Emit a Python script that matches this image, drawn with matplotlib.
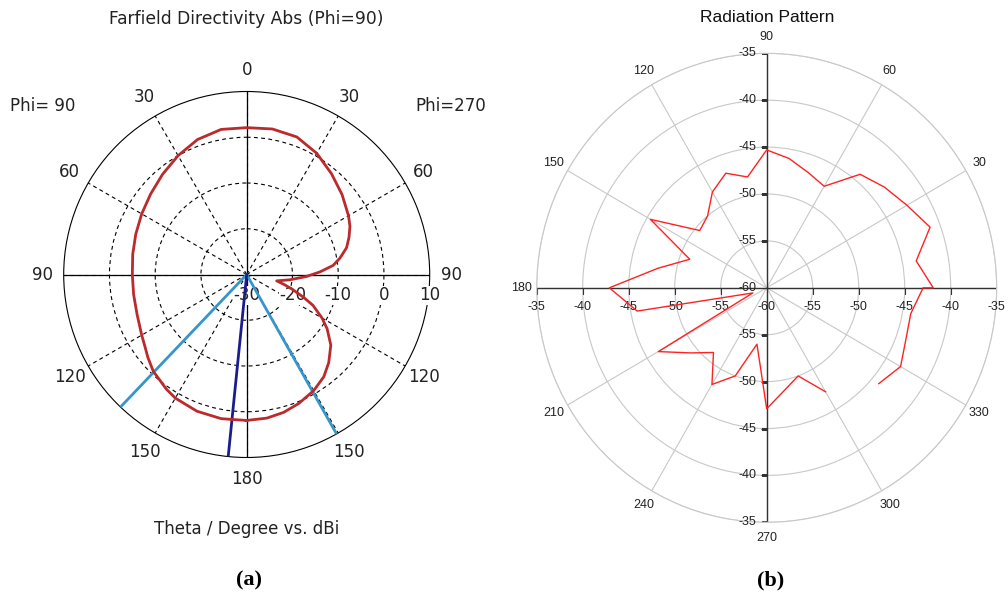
import numpy as np
import matplotlib.pyplot as plt

plt.rcParams['font.family'] = ['DejaVu Sans']

# ---- (a) farfield directivity cut: theta (deg) vs dBi, both half planes
theta_phi90 = [0, 10, 20, 30, 40, 50, 60, 70, 80, 90, 100, 110, 120, 125, 130, 136,
               145, 150, 160, 170, 180]
dbi_phi90 = [2.1, 2.2, 1.4, 0.0, -1.4, -2.6, -3.5, -4.2, -4.7, -5.0, -4.9, -4.5, -3.5,
             -2.8, -1.8, -0.6, 0.6, 1.2, 1.8, 2.0, 1.9]
theta_phi270 = [0, 10, 20, 30, 40, 50, 60, 65, 70, 75, 80, 84, 88, 92, 97, 102, 105, 108,
                112, 115, 120, 124, 130, 137, 143, 150, 158, 165, 172, 180]
dbi_phi270 = [2.1, 2.3, 2.0, 0.6, -1.2, -2.8, -4.3, -5.1, -6.2, -7.4, -9.3, -11.0, -14.0,
              -17.0, -20.5, -23.3, -21.5, -19.5, -16.5, -14.0, -11.0, -8.8, -6.0, -3.7,
              -2.0, -0.7, 0.4, 1.2, 1.7, 1.9]
main_lobe_theta = 174.2          # phi=90 side
beam_edges = [(-136.4), 150.6]   # negative = phi=90 side
angle_ticks_a = [0, 30, 60, 90, 120, 150, 180, 210, 240, 270, 300, 330]
angle_labels_a = ['0', '30', '60', '90', '120', '150', '180', '150', '120', '90', '60', '30']
rings_a = [-30, -20, -10, 0, 10]

# ---- (b) measured radiation pattern: angle (deg) vs level
rp_angle = [320, 330, 340, 350, 360, 0, 10, 20, 30, 40, 50, 60, 70, 80, 90, 100, 110,
            120, 130, 140, 150, 160, 170, 180, 190, 200, 210, 220, 230, 240, 250, 260,
            270, 280, 290, 300]
rp_level = [-44.1, -43.2, -43.9, -44.1, -43.0, -41.9, -43.5, -41.1, -42.4, -43.3, -44.2,
            -47.5, -46.9, -46.0, -45.3, -48.0, -47.0, -48.2, -50.0, -50.5, -45.4, -51.1,
            -48.0, -42.9, -45.7, -58.4, -46.4, -49.2, -51.0, -48.1, -50.0, -53.9, -47.1,
            -48.9, -50.0, -47.2]
angle_ticks_b = [30, 60, 90, 120, 150, 180, 210, 240, 270, 300, 330]
rings_b = [-55, -50, -45, -40, -35]

W, H = 1008, 596
fig = plt.figure(figsize=(W / 100, H / 100), dpi=100)


def fx(x):
    return x / W


def fy(y):
    return 1 - y / H


# ================= (a) =================
cx, cy, R = 246.7, 274.5, 183.0
axa = fig.add_axes([fx(cx - R), fy(cy + R), 2 * R / W, 2 * R / H], projection='polar')
axa.set_theta_zero_location('N')
axa.set_theta_direction(-1)
axa.set_ylim(-30, 10)
axa.set_yticks([-20, -10, 0])
axa.set_yticklabels([])
axa.set_xticks(np.deg2rad(angle_ticks_a))
axa.set_xticklabels([])
axa.tick_params(length=0)
axa.grid(True, color='black', linestyle=(0, (3.5, 3)), linewidth=0.8)
axa.spines['polar'].set_color('black')
axa.spines['polar'].set_linewidth(0.8)
for a in [0, 90, 180, 270]:
    axa.axvline(np.deg2rad(a), color='black', lw=0.9, zorder=2)

ang = np.deg2rad(np.r_[-np.array(theta_phi90)[::-1], theta_phi270])
val = np.r_[np.array(dbi_phi90)[::-1], dbi_phi270]
axa.plot(ang, val, color='#bb2a2c', lw=2.0, zorder=5, solid_joinstyle='round')

for t in beam_edges:
    axa.plot([np.deg2rad(t)] * 2, [-30, 10], color='#3596cc', lw=2.0, zorder=4)
axa.plot([np.deg2rad(-main_lobe_theta)] * 2, [-30, 10], color='#1c1c8e', lw=2.0, zorder=4)

for t, lab in zip(angle_ticks_a, angle_labels_a):
    axa.text(np.deg2rad(t), 14.7, lab, ha='center', va='center', fontsize=12, color='#222')
for v in rings_a:
    axa.annotate(str(v), xy=(np.pi / 2, v), xytext=(0, -21), textcoords='offset pixels',
                 ha='center', va='center', fontsize=12, color='#222', zorder=3,
                 bbox=dict(fc='white', ec='none', pad=0.3))

fig.text(fx(246), fy(19), 'Farfield Directivity Abs (Phi=90)', ha='center', va='center',
         fontsize=12.3, color='#222')
fig.text(fx(43), fy(106), 'Phi= 90', ha='center', va='center', fontsize=12, color='#222')
fig.text(fx(451), fy(106), 'Phi=270', ha='center', va='center', fontsize=12, color='#222')
fig.text(fx(247), fy(529), 'Theta / Degree vs. dBi', ha='center', va='center',
         fontsize=12, color='#222')

# ================= (b) =================
bx, by, Rx, Ry = 766.7, 287.8, 230.0, 234.5
axb = fig.add_axes([fx(bx - Rx), fy(by + Ry), 2 * Rx / W, 2 * Ry / H], projection='polar')
axb.set_aspect('auto')
axb.set_ylim(-60, -35)
axb.set_yticks(rings_b)
axb.set_yticklabels([])
axb.set_xticks(np.deg2rad(np.arange(0, 360, 30)))
axb.set_xticklabels([])
axb.tick_params(axis='y', length=0)
axb.tick_params(axis='x', length=4, width=0.8, color='#333', direction='out')
axb.grid(True, color='#c8c8c8', linewidth=0.8)
axb.spines['polar'].set_color('#c8c8c8')
axb.spines['polar'].set_linewidth(0.8)
for a in [0, 90, 180, 270]:
    axb.axvline(np.deg2rad(a), color='#333', lw=1.0, zorder=2)

axb.plot(np.deg2rad(rp_angle), rp_level, color='#ff2222', lw=1.0, zorder=5)

fs_b = 9
for a in [0, 180]:
    axb.plot([np.deg2rad(a)] * len(rings_b), rings_b, ls='none', marker=3, ms=4,
             mew=0.8, color='#333')
    for v in rings_b:
        axb.annotate(str(v), xy=(np.deg2rad(a), v), xytext=(0, -19), textcoords='offset pixels',
                     ha='center', va='center', fontsize=fs_b, family='Liberation Sans',
                     color='#222')
for a in [90, 270]:
    axb.plot([np.deg2rad(a)] * len(rings_b), rings_b, ls='none', marker=0, ms=4,
             mew=0.8, color='#333')
    for v in rings_b:
        axb.annotate(str(v), xy=(np.deg2rad(a), v), xytext=(-10, 0), textcoords='offset pixels',
                     ha='right', va='center', fontsize=fs_b, family='Liberation Sans',
                     color='#222')
axb.annotate('-60', xy=(0, -60), xytext=(0, -19), textcoords='offset pixels',
             ha='center', va='center', fontsize=fs_b, family='Liberation Sans', color='#222')
axb.annotate('-60', xy=(0, -60), xytext=(-10, 0), textcoords='offset pixels',
             ha='right', va='center', fontsize=fs_b, family='Liberation Sans', color='#222')
for t in angle_ticks_b:
    axb.text(np.deg2rad(t), -33.3, str(t), ha='center', va='center', fontsize=fs_b,
             family='Liberation Sans', color='#222')

fig.text(fx(767), fy(17), 'Radiation Pattern', ha='center', va='center', fontsize=12.5,
         family='Liberation Sans', color='#111')

fig.text(fx(249), fy(580), '(a)', ha='center', va='center', fontsize=16,
         family='Liberation Serif', weight='bold')
fig.text(fx(771), fy(580), '(b)', ha='center', va='center', fontsize=16,
         family='Liberation Serif', weight='bold')

fig.savefig('out.png', dpi=100, facecolor='white')
